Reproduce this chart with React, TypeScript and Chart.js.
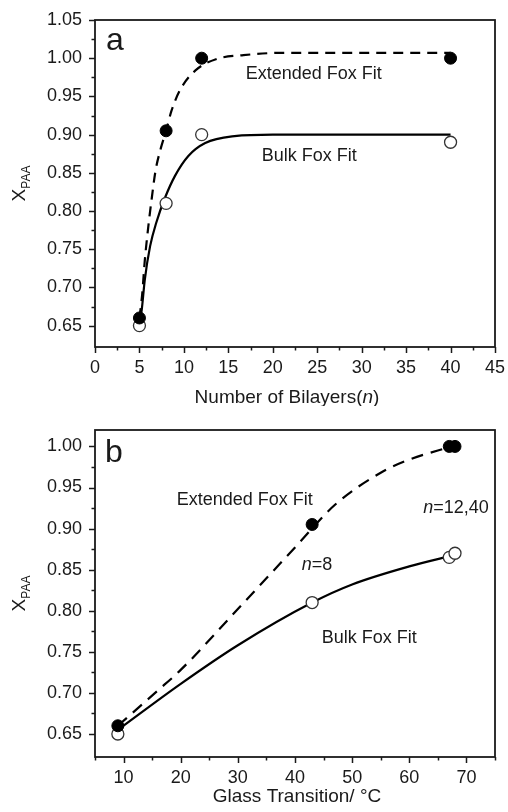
import React, { useEffect, useRef } from 'react';
import { Chart, registerables } from 'chart.js';

Chart.register(...registerables);

const FONT = "'Liberation Sans', Arial, Helvetica, sans-serif";
const INK = '#1a1a1a';

// ---------- Panel a: X_PAA vs number of bilayers ----------
const bilayersN = [5, 8, 12, 40];
const extendedXpaaA = [0.66, 0.905, 1.0, 1.0];
const bulkXpaaA = [0.65, 0.81, 0.9, 0.89];
const extendedFitNA = [5, 5.3, 5.6, 6, 6.4, 6.8, 7.4, 8, 8.6, 9.6, 11.3, 13.7, 16.7, 21, 40];
const extendedFitXpaaA = [0.66, 0.69, 0.735, 0.78, 0.818, 0.852, 0.882, 0.905, 0.931, 0.959, 0.984, 0.999, 1.004, 1.007, 1.007];
const bulkFitNA = [5, 5.25, 5.6, 6.2, 6.9, 7.9, 9, 10.5, 12.4, 15.7, 20, 40];
const bulkFitXpaaA = [0.655, 0.67, 0.71, 0.754, 0.785, 0.818, 0.846, 0.872, 0.889, 0.898, 0.9, 0.9];
const xTicksA = [0, 5, 10, 15, 20, 25, 30, 35, 40, 45];
const xMinorTicksA = [2.5, 7.5, 12.5, 17.5, 22.5, 27.5, 32.5, 37.5, 42.5];
const yTicksA = [0.65, 0.7, 0.75, 0.8, 0.85, 0.9, 0.95, 1.0, 1.05];
const yMinorTicksA = [0.675, 0.725, 0.775, 0.825, 0.875, 0.925, 0.975, 1.025];

// ---------- Panel b: X_PAA vs glass transition ----------
const glassTransitionC = [9, 43, 67, 68];
const extendedXpaaB = [0.66, 0.905, 1.0, 1.0];
const bulkXpaaB = [0.65, 0.81, 0.865, 0.87];
const extendedFitTgB = [9, 16, 20, 30, 40, 47, 55, 60, 65, 67.5];
const extendedFitXpaaB = [0.66, 0.703, 0.728, 0.802, 0.877, 0.929, 0.968, 0.984, 0.995, 1.0];
const bulkFitTgB = [9, 20, 30, 43, 50, 60, 68];
const bulkFitXpaaB = [0.655, 0.711, 0.758, 0.81, 0.832, 0.854, 0.868];
const xTicksB = [10, 20, 30, 40, 50, 60, 70];
const xMinorTicksB = [5, 15, 25, 35, 45, 55, 65, 75];
const yTicksB = [0.65, 0.7, 0.75, 0.8, 0.85, 0.9, 0.95, 1.0];
const yMinorTicksB = [0.675, 0.725, 0.775, 0.825, 0.875, 0.925, 0.975];

type Seg = { t: string; it?: boolean; sub?: boolean; sup?: boolean };
type Ann = { segs: Seg[]; x: number; y: number; size: number };

function drawRich(ctx: CanvasRenderingContext2D, segs: Seg[], x: number, y: number, size: number, align: 'left' | 'center') {
  const fontOf = (s: Seg) => `${s.it ? 'italic ' : ''}${s.sub || s.sup ? Math.round(size * 0.62) : size}px ${FONT}`;
  let total = 0;
  for (const s of segs) {
    ctx.font = fontOf(s);
    total += ctx.measureText(s.t).width;
  }
  let cx = align === 'center' ? x - total / 2 : x;
  ctx.textAlign = 'left';
  ctx.textBaseline = 'alphabetic';
  for (const s of segs) {
    ctx.font = fontOf(s);
    const dy = s.sub ? size * 0.28 : s.sup ? -size * 0.45 : 0;
    ctx.fillText(s.t, cx, y + dy);
    cx += ctx.measureText(s.t).width;
  }
}

type Spec = {
  xMin: number; xMax: number; yMin: number; yMax: number;
  xTicks: number[]; xMinor: number[]; yTicks: number[]; yMinor: number[];
  xs: number[]; ext: number[]; bulk: number[];
  extFitX: number[]; extFitY: number[]; bulkFitX: number[]; bulkFitY: number[];
  padTop: number; xAxisH: number; xTitle: Seg[]; xTitleX: number; xTitleY: number;
  anns: Ann[]; dash: number[];
};

function makeDeco(spec: Spec) {
  return {
    id: 'deco',
    afterDraw(chart: any) {
      const ctx: CanvasRenderingContext2D = chart.ctx;
      const a = chart.chartArea;
      const xs = chart.scales.x;
      const ys = chart.scales.y;
      ctx.save();
      ctx.strokeStyle = INK;
      ctx.lineWidth = 1.5;
      const xTick = (v: number, len: number) => {
        const p = Math.round(xs.getPixelForValue(v)) + 0.5;
        ctx.beginPath();
        ctx.moveTo(p, a.bottom);
        ctx.lineTo(p, a.bottom + len);
        ctx.stroke();
      };
      const yTick = (v: number, len: number) => {
        const p = Math.round(ys.getPixelForValue(v)) + 0.5;
        ctx.beginPath();
        ctx.moveTo(a.left, p);
        ctx.lineTo(a.left - len, p);
        ctx.stroke();
      };
      spec.xTicks.forEach((v) => xTick(v, 6));
      spec.xMinor.forEach((v) => xTick(v, 3.5));
      spec.yTicks.forEach((v) => yTick(v, 6));
      spec.yMinor.forEach((v) => yTick(v, 3.5));
      ctx.lineWidth = 1.8;
      ctx.strokeRect(a.left, a.top, a.right - a.left, a.bottom - a.top);

      ctx.fillStyle = INK;
      for (const an of spec.anns) {
        drawRich(ctx, an.segs, xs.getPixelForValue(an.x), ys.getPixelForValue(an.y), an.size, 'left');
      }
      drawRich(ctx, spec.xTitle, spec.xTitleX, spec.xTitleY, 19, 'center');
      ctx.save();
      ctx.translate(25, (a.top + a.bottom) / 2);
      ctx.rotate(-Math.PI / 2);
      drawRich(ctx, [{ t: 'X' }, { t: 'PAA', sub: true }], 0, 0, 19, 'center');
      ctx.restore();
      ctx.restore();
    },
  };
}

function buildChart(canvas: HTMLCanvasElement, spec: Spec) {
  const pts = (xs: number[], ys: number[]) => xs.map((x, i) => ({ x, y: ys[i] }));
  return new Chart(canvas, {
    type: 'scatter',
    data: {
      datasets: [
        {
          data: pts(spec.xs, spec.ext),
          backgroundColor: '#000',
          borderColor: '#000',
          borderWidth: 1,
          pointRadius: 6,
          order: 0,
        },
        {
          data: pts(spec.xs, spec.bulk),
          backgroundColor: '#fff',
          borderColor: '#333',
          borderWidth: 1.3,
          pointRadius: 6,
          order: 0,
        },
        {
          data: pts(spec.extFitX, spec.extFitY),
          showLine: true,
          borderColor: '#000',
          borderWidth: 2.2,
          borderDash: spec.dash,
          pointRadius: 0,
          cubicInterpolationMode: 'monotone',
          order: 1,
        },
        {
          data: pts(spec.bulkFitX, spec.bulkFitY),
          showLine: true,
          borderColor: '#000',
          borderWidth: 2.2,
          pointRadius: 0,
          cubicInterpolationMode: 'monotone',
          order: 1,
        },
      ] as any,
    },
    options: {
      animation: false,
      responsive: false,
      devicePixelRatio: 1,
      events: [],
      layout: { padding: { top: spec.padTop, right: 13, left: 0, bottom: 0 } },
      plugins: { legend: { display: false }, tooltip: { enabled: false } },
      scales: {
        x: {
          type: 'linear',
          min: spec.xMin,
          max: spec.xMax,
          afterBuildTicks: (s: any) => { s.ticks = spec.xTicks.map((v) => ({ value: v })); },
          afterFit: (s: any) => { s.height = spec.xAxisH; s.paddingLeft = 0; s.paddingRight = 0; },
          grid: { display: false, drawTicks: false },
          border: { display: false },
          ticks: {
            autoSkip: false,
            maxRotation: 0,
            padding: 10,
            color: INK,
            font: { family: FONT, size: 18 },
            callback: (v: any) => String(v),
          },
        },
        y: {
          type: 'linear',
          min: spec.yMin,
          max: spec.yMax,
          afterBuildTicks: (s: any) => { s.ticks = spec.yTicks.map((v) => ({ value: v })); },
          afterFit: (s: any) => { s.width = 95; s.paddingTop = 0; s.paddingBottom = 0; },
          grid: { display: false, drawTicks: false },
          border: { display: false },
          ticks: {
            autoSkip: false,
            padding: 13,
            color: INK,
            font: { family: FONT, size: 18 },
            callback: (v: any) => Number(v).toFixed(2),
          },
        },
      },
    } as any,
    plugins: [makeDeco(spec)],
  });
}

const specA: Spec = {
  xMin: 0, xMax: 45, yMin: 0.622, yMax: 1.05,
  xTicks: xTicksA, xMinor: xMinorTicksA, yTicks: yTicksA, yMinor: yMinorTicksA,
  xs: bilayersN, ext: extendedXpaaA, bulk: bulkXpaaA,
  extFitX: extendedFitNA, extFitY: extendedFitXpaaA, bulkFitX: bulkFitNA, bulkFitY: bulkFitXpaaA,
  padTop: 20, xAxisH: 59,
  xTitle: [{ t: 'Number of Bilayers(' }, { t: 'n', it: true }, { t: ')' }], xTitleX: 287, xTitleY: 403,
  anns: [
    { segs: [{ t: 'a' }], x: 1.24, y: 1.011, size: 32 },
    { segs: [{ t: 'Extended Fox Fit' }], x: 16.95, y: 0.973, size: 18 },
    { segs: [{ t: 'Bulk Fox Fit' }], x: 18.75, y: 0.865, size: 18 },
  ],
  dash: [10, 7],
};

const specB: Spec = {
  xMin: 5, xMax: 75, yMin: 0.622, yMax: 1.02,
  xTicks: xTicksB, xMinor: xMinorTicksB, yTicks: yTicksB, yMinor: yMinorTicksB,
  xs: glassTransitionC, ext: extendedXpaaB, bulk: bulkXpaaB,
  extFitX: extendedFitTgB, extFitY: extendedFitXpaaB, bulkFitX: bulkFitTgB, bulkFitY: bulkFitXpaaB,
  padTop: 24, xAxisH: 55,
  xTitle: [{ t: 'Glass Transition/ °C' }], xTitleX: 297, xTitleY: 396,
  anns: [
    { segs: [{ t: 'b' }], x: 6.75, y: 0.9815, size: 32 },
    { segs: [{ t: 'Extended Fox Fit' }], x: 19.3, y: 0.929, size: 18 },
    { segs: [{ t: 'n', it: true }, { t: '=12,40' }], x: 62.45, y: 0.9188, size: 18 },
    { segs: [{ t: 'n', it: true }, { t: '=8' }], x: 41.17, y: 0.85, size: 18 },
    { segs: [{ t: 'Bulk Fox Fit' }], x: 44.67, y: 0.761, size: 18 },
  ],
  dash: [12, 8],
};

export default function App() {
  const refA = useRef<HTMLCanvasElement>(null);
  const refB = useRef<HTMLCanvasElement>(null);
  useEffect(() => {
    const ca = buildChart(refA.current!, specA);
    const cb = buildChart(refB.current!, specB);
    return () => {
      ca.destroy();
      cb.destroy();
    };
  }, []);
  return (
    <div style={{ position: 'absolute', left: 0, top: 0, width: 508, height: 812, background: '#fff' }}>
      <canvas ref={refA} width={508} height={406} style={{ display: 'block', width: 508, height: 406 }} />
      <canvas ref={refB} width={508} height={406} style={{ display: 'block', width: 508, height: 406 }} />
    </div>
  );
}
